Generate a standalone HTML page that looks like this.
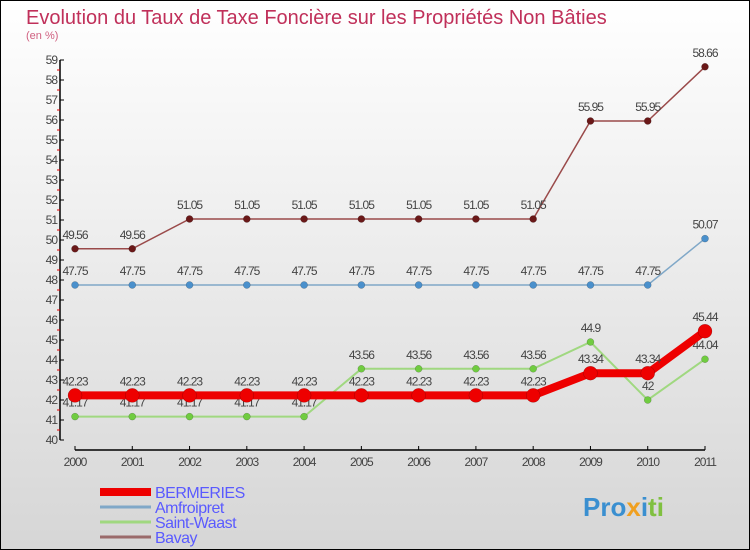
<!DOCTYPE html>
<html><head><meta charset="utf-8"><style>
body{margin:0}
svg{display:block;font-family:"Liberation Sans",sans-serif}
</style></head><body>
<svg id="c" width="750" height="550" viewBox="0 0 750 550">
<defs><linearGradient id="bg" x1="0" y1="0" x2="0" y2="1"><stop offset="0" stop-color="#ffffff"/><stop offset="1" stop-color="#d6d6d6"/></linearGradient></defs>
<rect x="0.5" y="0.5" width="749" height="549" fill="url(#bg)" stroke="#000"/>
<text x="26" y="24" font-size="20" fill="#c0305a">Evolution du Taux de Taxe Foncière sur les Propriétés Non Bâties</text>
<text x="26" y="39" font-size="11" fill="#d06080">(en %)</text>
<g id="axes"></g>
<g id="series"></g>
<g id="legend"></g>
<text x="583" y="516" font-size="26" font-weight="bold" fill="#3a8fd0">Pro<tspan fill="#f0a020">x</tspan><tspan fill="#3a8fd0">i</tspan><tspan fill="#80c040">ti</tspan></text>
</svg>
<script>
const years=["2000","2001","2002","2003","2004","2005","2006","2007","2008","2009","2010","2011"];
const bermeries=[42.23,42.23,42.23,42.23,42.23,42.23,42.23,42.23,42.23,43.34,43.34,45.44];
const amfroipret=[47.75,47.75,47.75,47.75,47.75,47.75,47.75,47.75,47.75,47.75,47.75,50.07];
const saintWaast=[41.17,41.17,41.17,41.17,41.17,43.56,43.56,43.56,43.56,44.9,42,44.04];
const bavay=[49.56,49.56,51.05,51.05,51.05,51.05,51.05,51.05,51.05,55.95,55.95,58.66];
const yTicks=[40,41,42,43,44,45,46,47,48,49,50,51,52,53,54,55,56,57,58,59];
const NS="http://www.w3.org/2000/svg";
const X=i=>75+i*(630/11);
const Y=v=>440-(v-40)*20;
function mk(p,t,a,txt){const e=document.createElementNS(NS,t);for(const k in a)e.setAttribute(k,a[k]);if(txt!==undefined)e.textContent=txt;p.appendChild(e);return e;}
const ax=document.getElementById('axes');
let l=mk(ax,'line',{x1:60,y1:60,x2:60,y2:440,stroke:'#000','stroke-width':1.5});


l=mk(ax,'line',{x1:75,y1:450,x2:705,y2:450,stroke:'#000','stroke-width':1.5});


yTicks.forEach(v=>{
 mk(ax,'line',{x1:60,y1:Y(v),x2:64,y2:Y(v),stroke:'#000'});
 if(v<59)mk(ax,'line',{x1:57,y1:Y(v+0.5),x2:60,y2:Y(v+0.5),stroke:'#e00000'});
 const t=mk(ax,'text',{x:57,y:Y(v)+4,'text-anchor':'end','font-size':12,fill:'#444','letter-spacing':'-1'},String(v));
 
 
});
years.forEach((y,i)=>{
 mk(ax,'line',{x1:X(i),y1:446,x2:X(i),y2:450,stroke:'#000'});
 const t=mk(ax,'text',{x:X(i),y:466,'text-anchor':'middle','font-size':12,fill:'#444','letter-spacing':'-1'},y);
 
 
});
const sg=document.getElementById('series');
function series(name,vals,line,dot,w,r){
 const g=mk(sg,'g',{});
 
 
 let d='';vals.forEach((v,i)=>{d+=(i?'L':'M')+X(i)+' '+Y(v);});
 mk(g,'path',{d:d,fill:'none',stroke:line,'stroke-width':w});
 vals.forEach((v,i)=>{
  const c=mk(g,'circle',{cx:X(i),cy:Y(v),r:r,fill:dot,stroke:'rgba(0,0,0,0.3)','stroke-width':0.5});
  
  
  const t=mk(g,'text',{x:X(i),y:Y(v)-10,'text-anchor':'middle','font-size':12,fill:'#444','letter-spacing':'-1'},String(v));
  
  
 });
}
series('bavay',bavay,'#9a4a4a','#6a1818',1.5,3.5);
series('amfroipret',amfroipret,'#80a8c8','#4a90cc',1.5,3.5);
series('saint-waast',saintWaast,'#a0d880','#70cc40',2,3.5);
series('bermeries',bermeries,'#ee0000','#ee0000',8,7);
const lg=document.getElementById('legend');
[['BERMERIES','#ee0000',8],['Amfroipret','#80a8c8',3],['Saint-Waast','#a0d880',3],['Bavay','#9a6a6a',3]].forEach((s,i)=>{
 const y=492+i*15;
 const g=mk(lg,'g',{});
 
 
 mk(g,'line',{x1:100,y1:y,x2:151,y2:y,stroke:s[1],'stroke-width':s[2]});
 mk(g,'text',{x:155,y:y+6,'font-size':16,fill:'#5a5aff','letter-spacing':'-0.5'},s[0]);
});
</script>
</body></html>
